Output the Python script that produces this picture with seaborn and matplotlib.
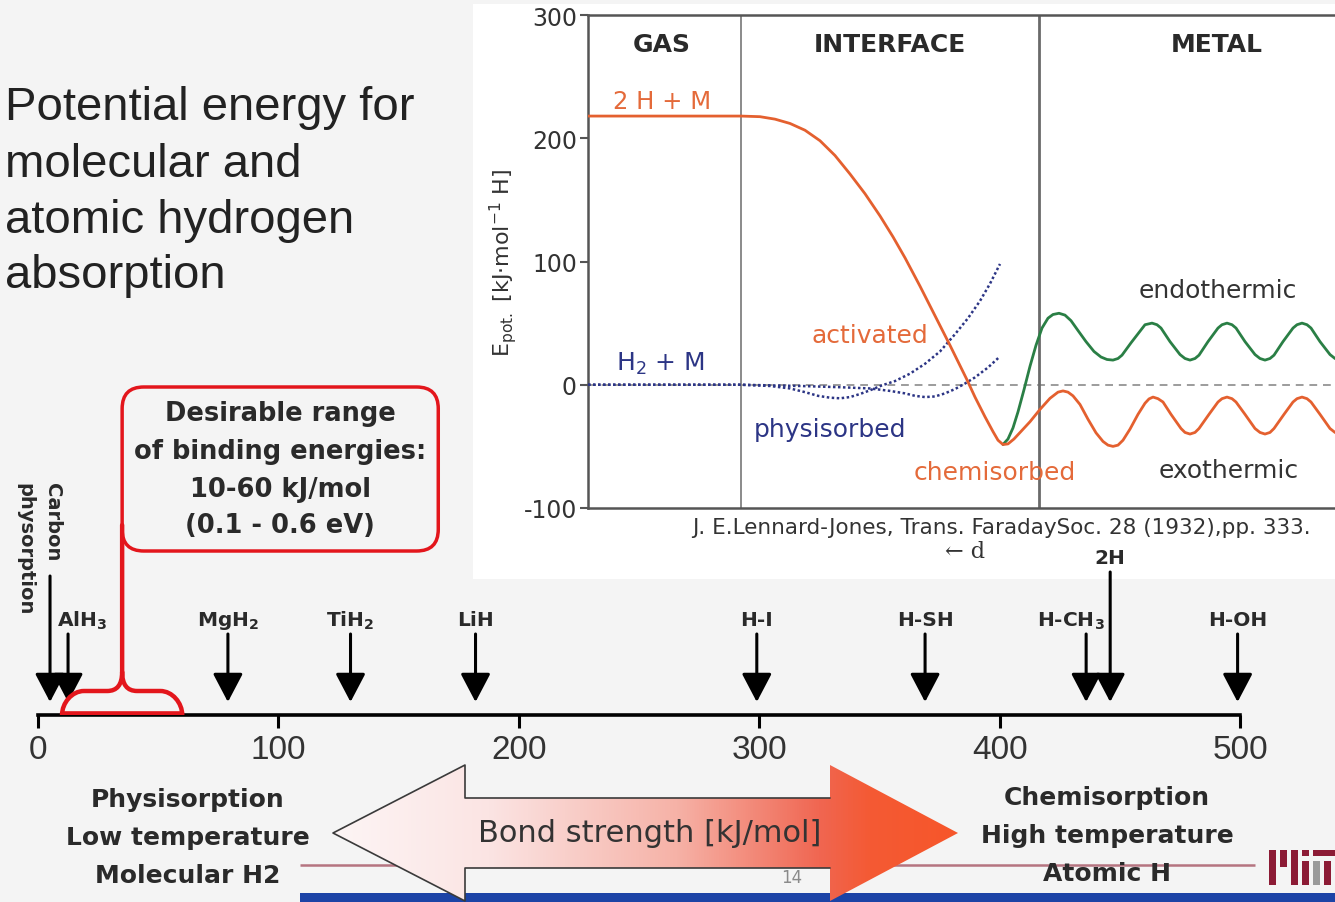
import matplotlib
matplotlib.use("Agg")
import numpy as np
import pandas as pd
import matplotlib.pyplot as plt
import seaborn as sns
from matplotlib.patches import Rectangle, FancyBboxPatch, Polygon, PathPatch
from matplotlib.path import Path
from matplotlib.colors import LinearSegmentedColormap
from matplotlib import font_manager

# ---------------- data ----------------
# inset: potential energy E_pot [kJ/mol H] vs distance d (arbitrary units, metal to the right)
atomic_d = [0, 15.3, 17.2, 18.7, 20.2, 21.7, 23.2, 24.7, 26.2, 27.7,
            29.2, 30.5, 31.7, 33.2, 34.7, 36.2, 37.9, 38.7, 39.7, 40.5,
            41.0, 41.5, 42.0, 42.6, 43.4, 44.2, 45.2, 46.2, 47.0, 47.5,
            48.0, 48.5, 49.2, 50.0, 50.8, 51.5, 52.0, 52.5, 53.0, 53.5,
            54.2, 55.0, 55.7, 56.1, 56.5, 57.0, 57.5, 58.3, 59.3, 59.7,
            60.2, 60.7, 61.1, 62.1, 63.0, 63.4, 63.9, 64.4, 64.8, 65.7,
            66.7, 67.2, 67.7, 68.2, 68.6, 69.6, 70.5, 70.9, 71.4, 71.9,
            72.3, 73.2, 74.2, 74.7, 75.2]
atomic_E = [218, 218, 217.5, 215.5, 212, 206.5, 198, 186, 171, 155,
            137, 120, 103, 80, 56, 32, 4, -10, -26, -38,
            -45, -48.5, -48, -44, -37, -30, -20, -11, -6, -5,
            -6, -9, -16, -28, -39, -46, -49, -50, -49, -45,
            -36, -24, -15, -11.5, -10, -11.3, -14, -24, -35.5, -38.7,
            -40, -38.7, -35.5, -24, -14, -11.3, -10, -11.3, -14, -24,
            -35.5, -38.7, -40, -38.7, -35.5, -24, -14, -11.3, -10, -11.3,
            -14, -24, -35.5, -38.7, -40]
endo_d = [41.5, 42.0, 42.5, 43.0, 43.6, 44.2, 44.8, 45.4, 46.0, 46.5,
          47.1, 47.7, 48.3, 49.0, 49.8, 50.6, 51.3, 51.9, 52.5, 53.0,
          53.4, 54.3, 55.3, 55.7, 56.4, 56.9, 57.3, 58.2, 59.2, 59.7,
          60.2, 60.7, 61.1, 62.0, 63.0, 63.4, 63.9, 64.4, 64.8, 65.7,
          66.7, 67.2, 67.7, 68.2, 68.6, 69.5, 70.5, 70.9, 71.4, 71.9,
          72.3, 73.2, 74.2, 74.7, 75.2]
endo_E = [-48.5, -44, -35, -22, -4, 15, 32, 46, 54, 57,
          58, 56.5, 52, 44, 35, 27, 22.5, 20.5, 20, 21.3,
          24, 34, 44.5, 48.7, 50, 48.7, 46, 35, 24.5, 21.3,
          20, 21.3, 24, 35, 46, 48.7, 50, 48.7, 46, 35,
          24.5, 21.3, 20, 21.3, 24, 35, 46, 48.7, 50, 48.7,
          46, 35, 24.5, 21.3, 20]
phys_d = [0, 15.3, 18.2, 20.2, 21.7, 23.0, 24.2, 25.2, 26.2, 27.2,
          28.2, 29.4, 30.7, 32.2, 33.7, 35.2, 36.7, 38.0, 39.2, 40.2, 41.2]
phys_E = [0, 0, -1, -3, -6, -9, -10.5, -11, -10, -7.5,
          -4.5, -0.5, 3, 9, 17, 27, 41, 54, 68, 82, 98]
mol_d = [0, 15.3, 21.2, 25.2, 28.2, 30.2, 31.7, 32.7, 33.7, 34.7,
         35.7, 36.7, 37.7, 38.7, 40.0, 41.2]
mol_E = [0, 0, -1, -2, -3, -5, -7, -9, -10, -9.5,
         -7, -3.5, 1, 6, 14, 23]
region_bounds = [15.3, 45.1]
region_names = ["GAS", "INTERFACE", "METAL"]
inset_yticks = [-100, 0, 100, 200, 300]

# number line: bond strength [kJ/mol]
compounds = ["Carbon\nphysorption", "AlH$_3$", "MgH$_2$", "TiH$_2$", "LiH",
             "H-I", "H-SH", "H-CH$_3$", "2H", "H-OH"]
bond_kj = [5, 12.5, 79, 130, 182, 299, 369, 436, 446, 499]
axis_ticks = [0, 100, 200, 300, 400, 500]
desirable_range = [10, 60]

# ---------------- style ----------------
sns.set_theme(style="white")
plt.rcParams['font.family'] = ['DejaVu Sans']
plt.rcParams['mathtext.default'] = 'regular'
names = {f.name for f in font_manager.fontManager.ttflist}
NARROW = 'Liberation Sans Narrow' if 'Liberation Sans Narrow' in names else None
ARIAL = 'Liberation Sans' if 'Liberation Sans' in names else 'DejaVu Sans'

ORANGE = '#e4602f'
ORANGE_T = '#e46a3a'
GREEN = '#2a7f45'
NAVY = '#2c3585'
RED = '#e3161c'
DARK = '#2a2a2a'

W, H = 1335, 903
fig = plt.figure(figsize=(W / 100, H / 100), dpi=100)
fig.patch.set_facecolor('#f4f4f4')


def fx(px):
    return px / W


def fy(py):
    return 1 - py / H


# background overlay in pixel coordinates
bg = fig.add_axes([0, 0, 1, 1], zorder=0)
bg.set_xlim(0, W)
bg.set_ylim(H, 0)
bg.axis('off')
bg.add_patch(Rectangle((473, 5), W - 473, 575, fc='white', ec='none'))

# title
for txt, base in zip(["Potential energy for", "molecular and", "atomic hydrogen", "absorption"],
                     [120, 177, 233, 288]):
    bg.text(5, base, txt, fontsize=34, family=ARIAL, color='#222222', va='baseline', ha='left')

# footer lines
bg.plot([300, 1255], [866, 866], color='#b57480', lw=1.8, solid_capstyle='butt')
bg.add_patch(Rectangle((300, 894), W - 300, 10, fc='#1c43a6', ec='none'))
bg.text(792, 878, "14", fontsize=12, color='#8a8a8a', ha='center', va='center')

# MIT logo
for (x0, y0, x1, y1, c) in [(1269, 851, 1276, 886, '#8c1b35'), (1280, 851, 1287, 868, '#8c1b35'),
                             (1291, 851, 1298, 886, '#8c1b35'), (1302, 862, 1309, 886, '#8c1b35'),
                             (1302, 851, 1309, 857, '#8c1b35'), (1313, 862, 1320, 886, '#9a9a9a'),
                             (1313, 851, 1335, 857, '#8c1b35'), (1324, 862, 1331, 886, '#8c1b35')]:
    bg.add_patch(Rectangle((x0, y0), x1 - x0, y1 - y0, fc=c, ec='none'))

# bond-strength double arrow with gradient
arrow_pts = [(333, 834), (465, 766), (465, 799), (830, 799), (830, 766), (958, 834),
             (830, 902), (830, 869), (465, 869), (465, 902)]
poly = Polygon(arrow_pts, closed=True, fc='none', ec='none')
bg.add_patch(poly)
cmap = LinearSegmentedColormap.from_list('bond', [(0, '#fdf5f5'), (0.25, '#fbe4e3'),
                                                  (0.55, '#f6b2a7'), (0.78, '#f06651'),
                                                  (0.86, '#f45a34'), (1.0, '#f7562a')])
im = bg.imshow(np.linspace(0, 1, 512).reshape(1, -1), cmap=cmap, aspect='auto',
               extent=(333, 958, 902, 766), zorder=2)
im.set_clip_path(poly)
bg.plot([830, 465, 465, 333, 465, 465, 830], [799, 799, 766, 834, 902, 869, 869],
        color='#3a3a3a', lw=1.2, zorder=3)
bg.text(650, 834, "Bond strength [kJ/mol]", fontsize=22, color='#333333',
        ha='center', va='center', zorder=4)

# bottom texts
for txt, y in zip(["Physisorption", "Low temperature", "Molecular H2"], [800, 838, 876]):
    bg.text(188, y, txt, fontsize=18, fontweight='bold', color=DARK, ha='center', va='center', zorder=4)
for txt, y in zip(["Chemisorption", "High temperature", "Atomic H"], [798, 836, 874]):
    bg.text(1107, y, txt, fontsize=18, fontweight='bold', color=DARK, ha='center', va='center', zorder=4)

# ---------------- inset: potential energy curves ----------------
ax = fig.add_axes([fx(588), fy(509), 750 / W, (509 - 16) / H], zorder=1)
ax.set_facecolor('white')
ax.set_xlim(0, 75)
ax.set_ylim(-100, 300)
ax.axhline(0, color='#9c9c9c', lw=1.4, ls=(0, (4, 3)), zorder=1)
ax.axvline(region_bounds[0], color='#8a8a8a', lw=1.4, zorder=1)
ax.axvline(region_bounds[1], color='#6a6a6a', lw=2.0, zorder=1)
sns.lineplot(x=mol_d, y=mol_E, ax=ax, color=NAVY, linewidth=1.8, linestyle=(0, (1, 1)),
             sort=False, estimator=None, zorder=3)
sns.lineplot(x=phys_d, y=phys_E, ax=ax, color=NAVY, linewidth=1.8, linestyle=(0, (1, 1)),
             sort=False, estimator=None, zorder=3)
sns.lineplot(x=endo_d, y=endo_E, ax=ax, color=GREEN, linewidth=2.0, sort=False,
             estimator=None, zorder=4)
sns.lineplot(x=atomic_d, y=atomic_E, ax=ax, color=ORANGE, linewidth=2.0, sort=False,
             estimator=None, zorder=5)
ax.spines['right'].set_visible(False)
for s in ['left', 'bottom', 'top']:
    ax.spines[s].set_color('#555555')
    ax.spines[s].set_linewidth(1.8)
ax.set_xticks([])
ax.set_yticks(inset_yticks)
ax.set_yticklabels([str(v) for v in inset_yticks])
ax.tick_params(axis='y', left=True, direction='out', length=6, width=1.5, color='#555555',
               labelsize=17, labelcolor='#333333', pad=2)
ax.set_ylabel(r'E$_{pot.}$ [kJ·mol$^{-1}$ H]', fontsize=16, color='#333333', labelpad=3)
ax.set_xlabel('')

# ---------------- number line ----------------
ax2 = fig.add_axes([fx(38), fy(716), 1202 / W, 340 / H], zorder=3)
ax2.patch.set_alpha(0)
ax2.set_xlim(0, 500)
ax2.set_ylim(0, 340)
for s in ['left', 'right', 'top']:
    ax2.spines[s].set_visible(False)
ax2.spines['bottom'].set_linewidth(2.6)
ax2.spines['bottom'].set_color('black')
ax2.set_yticks([])
ax2.set_xticks(axis_ticks)
ax2.set_xticklabels([str(v) for v in axis_ticks])
tick_font = NARROW if NARROW else ARIAL
tick_size = 28 if NARROW else 24
ax2.tick_params(axis='x', bottom=True, direction='out', length=9, width=2.2, color='black',
                labelsize=tick_size, labelcolor='#333333', pad=5)
for lab in ax2.get_xticklabels():
    lab.set_fontfamily(tick_font)

label_dx = {"AlH$_3$": 5.8, "H-CH$_3$": -6.2}
for name, e in zip(compounds, bond_kj):
    if name.startswith('Carbon'):
        top = 139
    elif name == '2H':
        top = 143
    else:
        top = 81
    ax2.annotate('', xy=(e, 13), xytext=(e, top),
                 arrowprops=dict(arrowstyle='-|>,head_length=0.8,head_width=0.42',
                                 mutation_scale=22, lw=2.2, color='black',
                                 shrinkA=0, shrinkB=0))
    if name.startswith('Carbon'):
        l1, l2 = name.split('\n')
        ax2.text(e + 1.2, 233, l1, rotation=270, fontsize=14, fontweight='bold', color=DARK,
                 ha='center', va='top')
        ax2.text(e - 10.4, 233, l2, rotation=270, fontsize=14, fontweight='bold', color=DARK,
                 ha='center', va='top')
    elif name == '2H':
        ax2.text(e, 158, name, fontsize=14.5, fontweight='bold', color=DARK, ha='center', va='center')
    else:
        ax2.text(e + label_dx.get(name, 0), 95, name, fontsize=14.5, fontweight='bold',
                 color=DARK, ha='center', va='center')

# desirable range bracket (brace shape) + callout
lo, hi = desirable_range
mid = (lo + hi) / 2
aspect = 1202 / 500  # px per kJ/mol
rx = 22 / aspect       # corner radius along x (kJ/mol units)
ry = 22                # corner radius along y (px units)
top_y = 24
cusp = 6.2
verts = [(lo, 0), (lo, ry * 0.55), (lo + rx * 0.45, top_y), (lo + rx, top_y),
         (mid - cusp, top_y),
         (mid, top_y), (mid, top_y + 19),
         (mid, 190),
         (mid, top_y + 19), (mid, top_y), (mid + cusp, top_y),
         (hi - rx, top_y),
         (hi - rx * 0.45, top_y), (hi, ry * 0.55), (hi, 0)]
codes = [Path.MOVETO, Path.CURVE4, Path.CURVE4, Path.CURVE4,
         Path.LINETO,
         Path.CURVE3, Path.CURVE3,
         Path.LINETO,
         Path.MOVETO, Path.CURVE3, Path.CURVE3,
         Path.LINETO,
         Path.CURVE4, Path.CURVE4, Path.CURVE4]
ax2.add_patch(PathPatch(Path(verts, codes), fc='none', ec=RED, lw=3.2, zorder=5,
                        capstyle='round', joinstyle='round'))
ax2.plot([lo, hi], [0.3, 0.3], color=RED, lw=5.5, solid_capstyle='butt', zorder=5)
callout = FancyBboxPatch((mid, 164), 131.5, 164, boxstyle='round,pad=0,rounding_size=9',
                         mutation_aspect=aspect, fc='none', ec=RED, lw=2.5, zorder=5)
ax2.add_patch(callout)
box_cx = mid + 131.5 / 2
for txt, y in zip(["Desirable range", "of binding energies:", "10-60 kJ/mol", "(0.1 - 0.6 eV)"],
                  [302, 264, 226, 190]):
    ax2.text(box_cx, y, txt, fontsize=18.5, fontweight='bold', color=DARK, ha='center', va='center')

# ---------------- top overlay texts (pixel coords) ----------------
top = fig.add_axes([0, 0, 1, 1], zorder=6)
top.set_xlim(0, W)
top.set_ylim(H, 0)
top.axis('off')
for name, x in zip(region_names, [662, 890, 1217]):
    top.text(x, 45, name, fontsize=18, fontweight='bold', color=DARK, ha='center', va='center')
top.text(662, 102, "2 H + M", fontsize=17.5, color=ORANGE_T, ha='center', va='center')
top.text(870, 336, "activated", fontsize=18, color=ORANGE_T, ha='center', va='center')
top.text(660, 364, "H$_2$ + M", fontsize=18, color=NAVY, ha='center', va='center')
top.text(830, 430, "physisorbed", fontsize=18, color=NAVY, ha='center', va='center')
top.text(995, 473, "chemisorbed", fontsize=18, color=ORANGE_T, ha='center', va='center')
top.text(1218, 291, "endothermic", fontsize=18, color='#333333', ha='center', va='center')
top.text(1229, 471, "exothermic", fontsize=18, color='#333333', ha='center', va='center')
top.text(1001, 528, "J. E.Lennard-Jones, Trans. FaradaySoc. 28 (1932),pp. 333.", fontsize=15.5,
         color='#333333', ha='center', va='center')
top.text(965, 552, "← d", fontsize=16, family=['DejaVu Serif'], color='#333333', ha='center', va='center')

fig.savefig('out.png', dpi=100, facecolor=fig.get_facecolor())
